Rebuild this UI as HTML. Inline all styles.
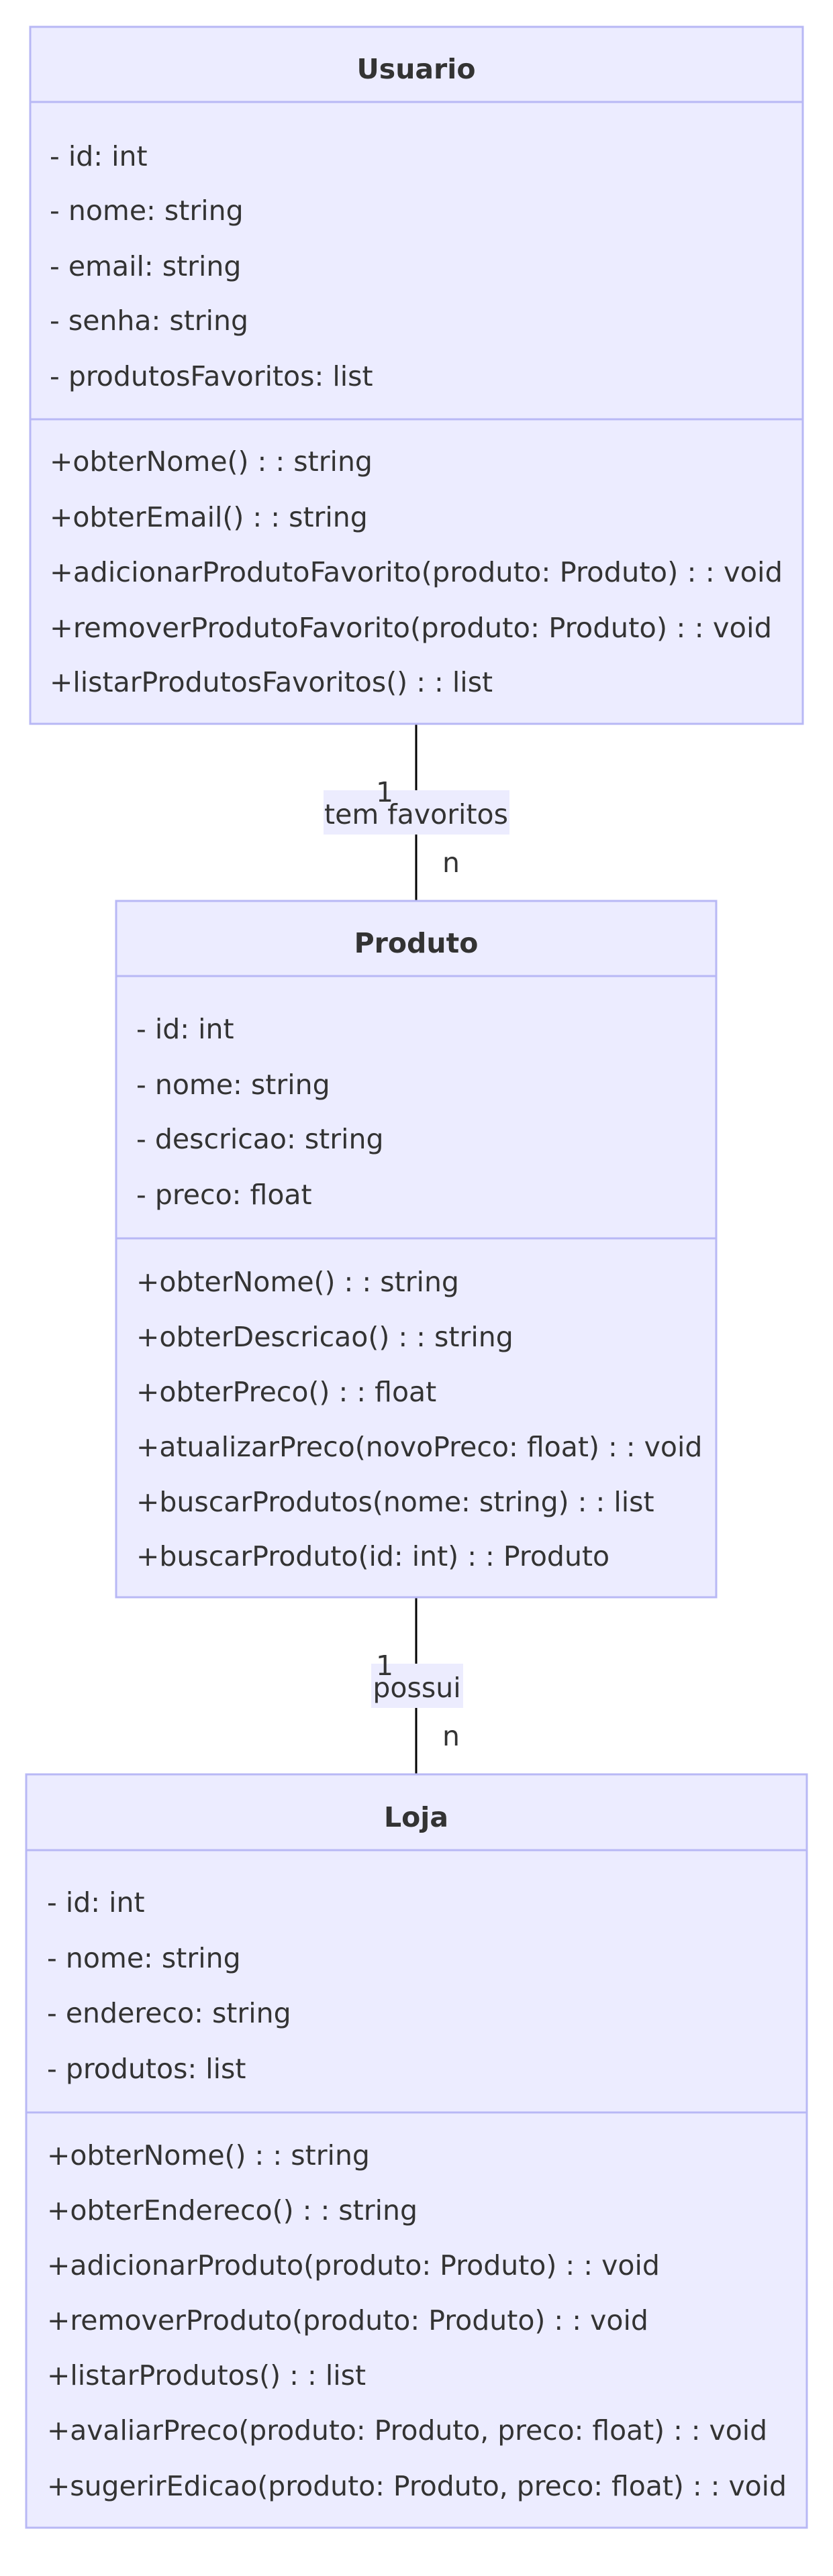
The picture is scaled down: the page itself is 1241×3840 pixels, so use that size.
<!DOCTYPE html>
<html><head><meta charset="utf-8"><style>html,body{margin:0;padding:0;background:#fff}svg{display:block}</style></head>
<body>
<svg width="1241" height="3840" viewBox="0 0 1241 3840" xmlns="http://www.w3.org/2000/svg" font-family="DejaVu Sans, sans-serif" font-size="41" fill="#333">
<g stroke="#000" stroke-width="3"><line x1="620" y1="1080" x2="620" y2="1342"/><line x1="620" y1="2382" x2="620" y2="2645"/></g>
<rect x="482" y="1178" width="277" height="66" fill="#ececfe"/>
<text x="620" y="1228" text-anchor="middle">tem favoritos</text>
<text x="573" y="1195" text-anchor="middle">1</text>
<text x="672" y="1300" text-anchor="middle">n</text>
<rect x="553" y="2480" width="137" height="66" fill="#ececfe"/>
<text x="621" y="2530" text-anchor="middle">possui</text>
<text x="573" y="2497" text-anchor="middle">1</text>
<text x="672" y="2602" text-anchor="middle">n</text>
<g fill="#ececff" stroke="#b8b8f5" stroke-width="3">
<rect x="45" y="40" width="1151" height="1039"/><line x1="45" y1="152" x2="1196" y2="152"/><line x1="45" y1="625" x2="1196" y2="625"/>
<rect x="173" y="1343" width="894" height="1038"/><line x1="173" y1="1455" x2="1067" y2="1455"/><line x1="173" y1="1846" x2="1067" y2="1846"/>
<rect x="39" y="2645" width="1163" height="1123"/><line x1="39" y1="2758" x2="1202" y2="2758"/><line x1="39" y1="3149" x2="1202" y2="3149"/>
</g>
<g dominant-baseline="central">
<text x="620" y="103" text-anchor="middle" font-weight="bold">Usuario</text>
<text x="74" y="233">- id: int</text>
<text x="74" y="314">- nome: string</text>
<text x="74" y="397">- email: string</text>
<text x="74" y="478">- senha: string</text>
<text x="74" y="561">- produtosFavoritos: list</text>
<text x="74" y="688">+obterNome() : : string</text>
<text x="74" y="771">+obterEmail() : : string</text>
<text x="74" y="853" textLength="1092" lengthAdjust="spacingAndGlyphs">+adicionarProdutoFavorito(produto: Produto) : : void</text>
<text x="74" y="936" textLength="1076" lengthAdjust="spacingAndGlyphs">+removerProdutoFavorito(produto: Produto) : : void</text>
<text x="74" y="1017">+listarProdutosFavoritos() : : list</text>

<text x="620" y="1406" text-anchor="middle" font-weight="bold">Produto</text>
<text x="203" y="1534">- id: int</text>
<text x="203" y="1617">- nome: string</text>
<text x="203" y="1698">- descricao: string</text>
<text x="203" y="1781">- preco: float</text>
<text x="203" y="1911">+obterNome() : : string</text>
<text x="203" y="1993">+obterDescricao() : : string</text>
<text x="203" y="2075">+obterPreco() : : float</text>
<text x="203" y="2157">+atualizarPreco(novoPreco: float) : : void</text>
<text x="203" y="2239">+buscarProdutos(nome: string) : : list</text>
<text x="203" y="2320">+buscarProduto(id: int) : : Produto</text>

<text x="620" y="2709" text-anchor="middle" font-weight="bold">Loja</text>
<text x="70" y="2836">- id: int</text>
<text x="70" y="2919">- nome: string</text>
<text x="70" y="3001">- endereco: string</text>
<text x="70" y="3084">- produtos: list</text>
<text x="70" y="3213">+obterNome() : : string</text>
<text x="70" y="3295">+obterEndereco() : : string</text>
<text x="70" y="3377">+adicionarProduto(produto: Produto) : : void</text>
<text x="70" y="3459">+removerProduto(produto: Produto) : : void</text>
<text x="70" y="3541">+listarProdutos() : : list</text>
<text x="70" y="3623" textLength="1073" lengthAdjust="spacingAndGlyphs">+avaliarPreco(produto: Produto, preco: float) : : void</text>
<text x="70" y="3706" textLength="1102" lengthAdjust="spacingAndGlyphs">+sugerirEdicao(produto: Produto, preco: float) : : void</text>
</g>
</svg>
</body></html>
